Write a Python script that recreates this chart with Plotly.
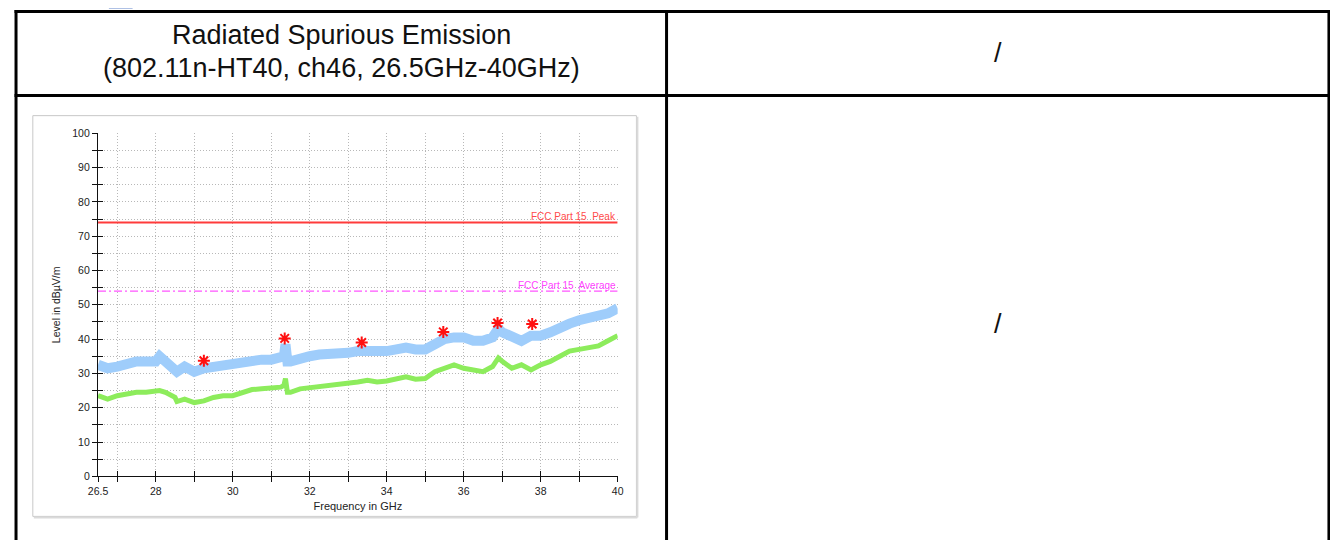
import plotly.graph_objects as go

# target screenshot size; the page body has an 8px margin
SW, SH = 1338, 548
OFF = 8
W, H = SW - 2 * OFF, SH - 2 * OFF

# ---------------- data ----------------
freq = [26.5, 26.75, 27.0, 27.25, 27.5, 27.75, 28.0, 28.1, 28.25, 28.5, 28.55, 28.75,
        29.0, 29.25, 29.5, 29.75, 30.0, 30.25, 30.5, 30.75, 31.0, 31.25, 31.33, 31.37,
        31.42, 31.5, 31.75, 32.0, 32.25, 32.5, 32.75, 33.0, 33.25, 33.5, 33.75, 34.0,
        34.25, 34.5, 34.75, 35.0, 35.25, 35.5, 35.75, 36.0, 36.25, 36.5, 36.75, 36.9,
        37.0, 37.25, 37.5, 37.75, 38.0, 38.25, 38.5, 38.75, 39.0, 39.25, 39.5, 39.75, 40.0]

peak_level = [32.5, 31.5, 32.0, 33.0, 33.5, 33.5, 33.5, 35.0, 33.5, 30.5, 30.5, 32.0,
              30.5, 31.5, 32.0, 32.5, 32.5, 33.0, 33.5, 34.0, 34.0, 34.5, 35.0, 38.5,
              33.5, 33.5, 34.5, 35.0, 35.5, 35.5, 36.0, 36.0, 36.5, 36.5, 36.0, 36.5,
              37.0, 37.5, 37.0, 37.0, 38.5, 40.0, 40.5, 40.5, 39.5, 39.5, 40.5, 43.0,
              42.0, 40.5, 39.5, 41.0, 41.0, 42.0, 43.5, 44.5, 45.5, 46.0, 46.5, 47.5, 49.0]

avg_level = [23.5, 22.5, 23.5, 24.0, 24.5, 24.5, 25.0, 25.0, 24.5, 23.0, 21.8, 22.5,
             21.5, 22.0, 23.0, 23.5, 23.5, 24.5, 25.3, 25.5, 25.8, 26.0, 26.5, 28.5,
             24.5, 24.5, 25.5, 25.8, 26.2, 26.5, 27.0, 27.2, 27.5, 28.0, 27.5, 27.8,
             28.5, 29.0, 28.3, 28.5, 30.5, 31.5, 32.5, 31.5, 31.0, 30.5, 32.0, 34.5,
             33.5, 31.5, 32.5, 31.0, 32.5, 33.5, 35.0, 36.5, 37.0, 37.5, 38.0, 39.5, 41.0]

marker_freq = [29.25, 31.35, 33.35, 35.47, 36.88, 37.78]
marker_level = [33.7, 40.2, 39.0, 42.1, 44.7, 44.4]

limit_freq = [26.5, 40.0]
peak_limit = [74, 74]
avg_limit = [54, 54]

x_ticks = [26.5, 27, 28, 29, 30, 31, 32, 33, 34, 35, 36, 37, 38, 39, 40]
x_labels = ["26.5", "", "28", "", "30", "", "32", "", "34", "", "36", "", "38", "", "40"]
y_ticks = list(range(0, 101, 5))
y_labels = [str(v) if v % 10 == 0 else "" for v in y_ticks]

header_line1 = "Radiated Spurious Emission"
header_line2 = "(802.11n-HT40, ch46, 26.5GHz-40GHz)"
right_text = "/"

# ---------------- helpers (screen pixel -> paper) ----------------
def px(x):
    return (x - OFF) / W

def py(y):
    return 1 - (y - OFF) / H

FONT = "Liberation Sans, Arial, sans-serif"

fig = go.Figure()

fig.add_trace(go.Scatter(x=freq, y=avg_level, mode="lines",
                         line=dict(color="#8DEC5C", width=5), hoverinfo="skip"))
fig.add_trace(go.Scatter(x=freq, y=peak_level, mode="lines",
                         line=dict(color="#9FCDFB", width=10), hoverinfo="skip"))
fig.add_trace(go.Scatter(x=limit_freq, y=peak_limit, mode="lines",
                         line=dict(color="#FF3B3B", width=2)))
fig.add_trace(go.Scatter(x=limit_freq, y=avg_limit, mode="lines",
                         line=dict(color="#FF55FF", width=1.3, dash="8px,3px,2px,3px")))
fig.add_trace(go.Scatter(x=marker_freq, y=marker_level, mode="markers",
                         marker=dict(symbol="asterisk-open", size=10, color="#FF1010",
                                     line=dict(color="#FF1010", width=2))))
fig.add_trace(go.Scatter(x=limit_freq, y=peak_limit, mode="lines", xaxis="x2", yaxis="y2",
                         line=dict(width=0), opacity=0, hoverinfo="skip"))

xdom = [px(89), px(615)]
ydom = [py(481), py(130)]

axis_common = dict(showline=True, linecolor="#111", linewidth=1.3, ticks="outside",
                   ticklen=5, tickwidth=1.3, tickcolor="#111", zeroline=False,
                   tickfont=dict(family=FONT, size=10.5, color="#222"))

fig.update_layout(
    width=W, height=H, autosize=False,
    margin=dict(l=0, r=0, t=0, b=0),
    paper_bgcolor="white", plot_bgcolor="white",
    showlegend=False,
    xaxis=dict(domain=xdom, range=[26.5, 40], tickmode="array", tickvals=x_ticks,
               ticktext=x_labels, showgrid=True, gridcolor="#B8B8B8", gridwidth=1,
               griddash="1px,2px", anchor="y",
               title=dict(text="Frequency in GHz", font=dict(family=FONT, size=11, color="#222"),
                          standoff=6),
               **axis_common),
    yaxis=dict(domain=ydom, range=[0, 100], tickmode="array", tickvals=y_ticks,
               ticktext=y_labels, showgrid=True, gridcolor="#B8B8B8", gridwidth=1,
               griddash="1px,2px", anchor="x",
               title=dict(text="Level in dBµV/m", font=dict(family=FONT, size=10.5, color="#222"),
                          standoff=9),
               **axis_common),
    xaxis2=dict(domain=xdom, range=[26.5, 40], overlaying="x", anchor="y2", tickmode="array",
                tickvals=x_ticks, ticks="inside", ticklen=5, tickwidth=1.3, tickcolor="#111",
                showticklabels=False, showgrid=False, zeroline=False, showline=False),
    yaxis2=dict(domain=ydom, range=[0, 100], overlaying="y", anchor="x2", tickmode="array",
                tickvals=y_ticks, ticks="inside", ticklen=5, tickwidth=1.3, tickcolor="#111",
                showticklabels=False, showgrid=False, zeroline=False, showline=False),
)

fig.add_annotation(x=40, y=peak_limit[-1], xref="x", yref="y", text="FCC Part 15  Peak",
                   showarrow=False, xanchor="right", yanchor="bottom", yshift=-2,
                   font=dict(family=FONT, size=10, color="#FF4A4A"))
fig.add_annotation(x=40, y=avg_limit[-1], xref="x", yref="y", text="FCC Part 15  Average",
                   showarrow=False, xanchor="right", yanchor="bottom", yshift=-2,
                   font=dict(family=FONT, size=10, color="#FF44FF"))

for txt, xx, yy in [(header_line1, 335, 29), (header_line2, 335, 63),
                    (right_text, 1000, 48), (right_text, 1000, 325)]:
    fig.add_annotation(x=px(xx), y=py(yy), xref="paper", yref="paper", text=txt,
                       showarrow=False, xanchor="center", yanchor="middle",
                       font=dict(family=FONT, size=27, color="#111"))

shapes = []
def line(x0, y0, x1, y1, color="black", width=3):
    shapes.append(dict(type="line", xref="paper", yref="paper", x0=px(x0), y0=py(y0),
                       x1=px(x1), y1=py(y1), line=dict(color=color, width=width), layer="above"))

line(4.5, 5.5, 1336.5, 5.5)
line(4.5, 91.5, 1336.5, 91.5)
line(6, 4, 6, 548)
line(664.5, 4, 664.5, 548)
line(1335, 4, 1335, 548)
shapes.append(dict(type="rect", xref="paper", yref="paper", x0=px(23), y0=py(522),
                   x1=px(634), y1=py(112), line=dict(color="#C8C8C8", width=1),
                   layer="below"))
line(635, 113, 635, 523, color="#DADADA", width=2)
line(24, 523, 635, 523, color="#DADADA", width=2)
shapes.append(dict(type="rect", xref="paper", yref="paper", x0=px(100), y0=py(2.5),
                   x1=px(124), y1=py(0), line=dict(width=0), fillcolor="#7F9CD6"))
fig.update_layout(shapes=shapes)

fig.write_html("out.html")
